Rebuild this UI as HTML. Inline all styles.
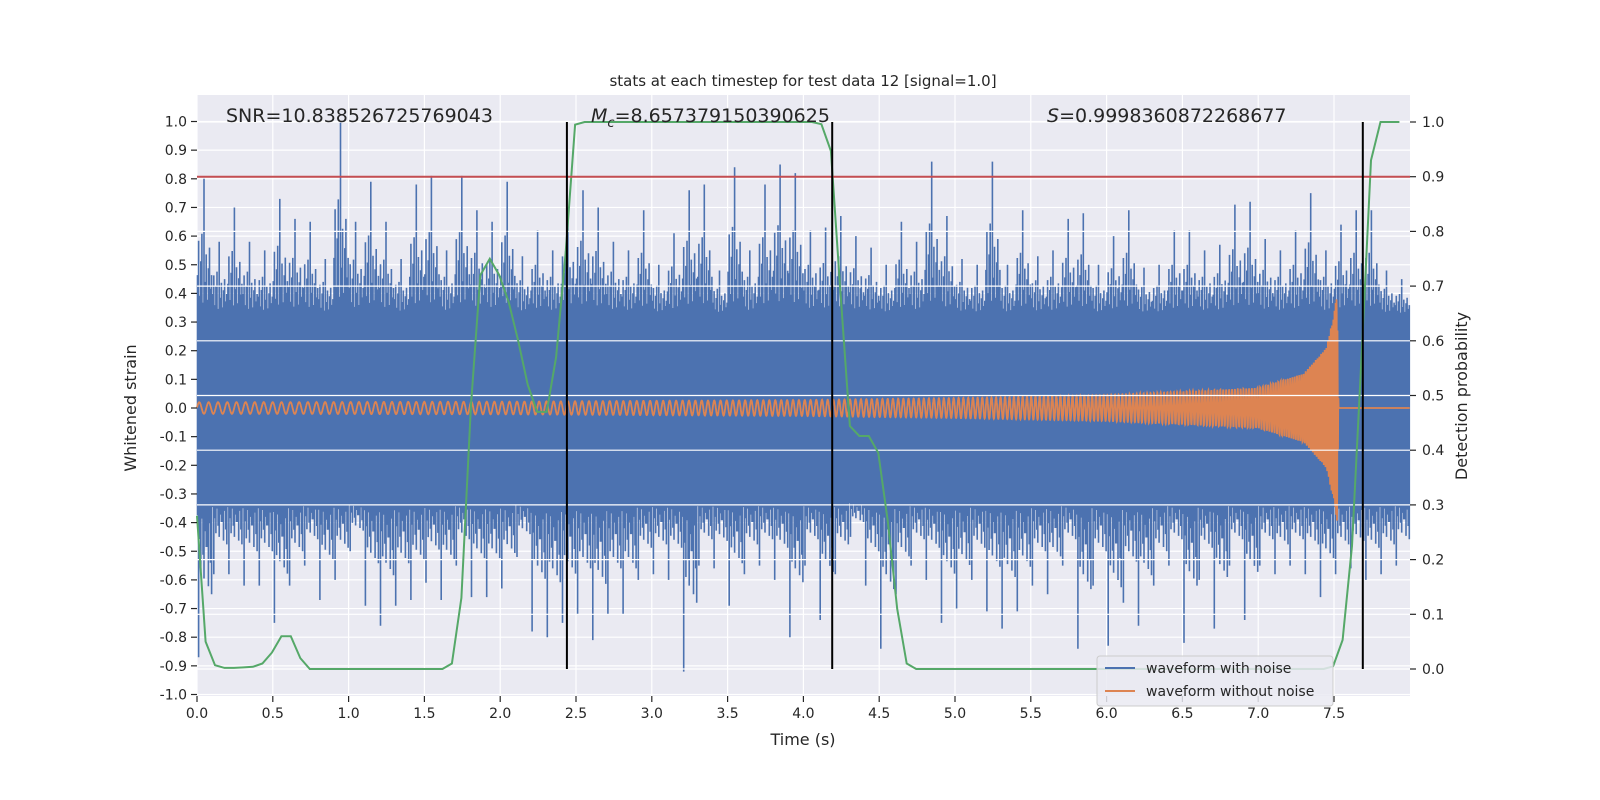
<!DOCTYPE html>
<html><head><meta charset="utf-8"><style>
html,body{margin:0;padding:0;background:#fff;}
svg{display:block;font-family:"DejaVu Sans","Liberation Sans",sans-serif;}
</style></head><body>
<svg id="chart" width="1600" height="800" viewBox="0 0 1600 800">
<rect x="0" y="0" width="1600" height="800" fill="#ffffff"/>
<rect x="197" y="95" width="1213" height="601" fill="#EAEAF2"/>
<g id="gridL"></g><g id="blue"></g><g id="orange"></g><g id="gridR"></g><g id="green"></g><g id="marks"></g><g id="axes"></g>
<text x="803" y="86" text-anchor="middle" font-size="15" fill="#262626">stats at each timestep for test data 12 [signal=1.0]</text>
<text x="226" y="122" font-size="19" fill="#262626">SNR=10.838526725769043</text>
<text x="591" y="122" font-size="19" fill="#262626"><tspan font-style="italic">M</tspan><tspan font-style="italic" font-size="13" dy="5">c</tspan><tspan dy="-5">=8.657379150390625</tspan></text>
<text x="1047" y="122" font-size="19" fill="#262626"><tspan font-style="italic">S</tspan>=0.9998360872268677</text>
<text x="803" y="745" text-anchor="middle" font-size="16" fill="#262626">Time (s)</text>
<text transform="translate(136,408) rotate(-90)" text-anchor="middle" font-size="16" fill="#262626">Whitened strain</text>
<text transform="translate(1467,396) rotate(-90)" text-anchor="middle" font-size="16" fill="#262626">Detection probability</text>
<g>
<rect x="1097" y="656" width="236" height="50" rx="3" fill="#EAEAF2" fill-opacity="0.85" stroke="#cccccc"/>
<line x1="1105" y1="668" x2="1135" y2="668" stroke="#4C72B0" stroke-width="2"/>
<text x="1146" y="673" font-size="14" fill="#262626">waveform with noise</text>
<line x1="1105" y1="691" x2="1135" y2="691" stroke="#DD8452" stroke-width="2"/>
<text x="1146" y="696" font-size="14" fill="#262626">waveform without noise</text>
</g>
</svg>
<script>
// ---- data ----
const noiseTop = [0.80,0.58,0.70,0.58,0.55,0.73,0.66,0.65,0.52,1.00,
0.65,0.79,0.65,0.52,0.78,0.81,0.55,0.81,0.69,0.65,
0.79,0.53,0.62,0.55,0.70,0.76,0.70,0.58,0.55,0.69,
0.50,0.61,0.76,0.78,0.48,0.84,0.55,0.78,0.85,0.82,
0.62,0.63,0.67,0.60,0.56,0.50,0.65,0.58,0.86,0.67,
0.52,0.50,0.86,0.50,0.69,0.53,0.55,0.66,0.68,0.50,
0.60,0.69,0.49,0.50,0.62,0.62,0.55,0.57,0.71,0.72,
0.59,0.55,0.62,0.75,0.55,0.64,0.69,0.69,0.48,0.45];
const noiseBottom = [-0.87,-0.58,-0.58,-0.62,-0.62,-0.75,-0.62,-0.55,-0.67,-0.60,
-0.50,-0.69,-0.76,-0.69,-0.67,-0.61,-0.67,-0.55,-0.66,-0.66,
-0.63,-0.52,-0.78,-0.80,-0.75,-0.72,-0.81,-0.72,-0.72,-0.60,
-0.58,-0.60,-0.92,-0.55,-0.56,-0.69,-0.58,-0.55,-0.60,-0.80,
-0.55,-0.74,-0.58,-0.45,-0.62,-0.84,-0.65,-0.55,-0.60,-0.75,
-0.70,-0.60,-0.71,-0.77,-0.71,-0.62,-0.65,-0.55,-0.84,-0.62,
-0.83,-0.68,-0.76,-0.62,-0.55,-0.82,-0.60,-0.77,-0.55,-0.74,
-0.55,-0.58,-0.55,-0.58,-0.66,-0.58,-0.56,-0.60,-0.58,-0.55];
const noiseBinWidth = 0.1;
const noiseCore = 0.32;
const spikePattern = [0.3,0.55,0.15,0.4,0.6,0.1,1.0,0.25,0.45,0.12,0.35,0.5,0.2,0.3];
const chirpTimes = [0, 2.0, 4.0, 5.0, 6.0, 7.0, 7.3, 7.45, 7.5, 7.52, 7.53, 8.0];
const chirpAmp   = [0.02, 0.022, 0.028, 0.035, 0.045, 0.07, 0.12, 0.21, 0.33, 0.40, 0.0, 0.0];
const chirpFreq  = [16, 20, 26, 31, 40, 55, 70, 90, 130, 160, 160, 160];
const probValues = [0.28,0.05,0.007,0.002,0.002,0.003,0.004,0.01,0.03,0.06,0.06,0.02,0,0,0,0,0,0,0,0,
0,0,0,0,0,0,0,0.01,0.13,0.48,0.72,0.75,0.72,0.67,0.60,0.52,0.47,0.47,0.57,0.76,
0.995,1,1,1,1,1,1,1,1,1,1,1,1,1,1,1,1,1,1,1,
1,1,1,1,1,1,0.996,0.947,0.69,0.444,0.426,0.426,0.395,0.27,0.11,0.01,0,0,0,0,
0,0,0,0,0,0,0,0,0,0,0,0,0,0,0,0,0,0,0,0,
0,0,0,0,0,0,0,0,0,0,0,0,0,0,0,0,0,0,0,0,
0.005,0.053,0.225,0.57,0.93,1,1,1];
const probStep = 0.0625, probStart = -0.006;
const threshold = 0.9;
const markerTimes = [2.44, 4.19, 7.69];
const xTicks = [0,0.5,1,1.5,2,2.5,3,3.5,4,4.5,5,5.5,6,6.5,7,7.5];
const yTicksL = [-1.0,-0.9,-0.8,-0.7,-0.6,-0.5,-0.4,-0.3,-0.2,-0.1,0.0,0.1,0.2,0.3,0.4,0.5,0.6,0.7,0.8,0.9,1.0];
const yTicksR = [0.0,0.1,0.2,0.3,0.4,0.5,0.6,0.7,0.8,0.9,1.0];

// ---- scales ----
const X0=197, X1=1410, YT=95, YB=696;
const xs = t => 197 + t*151.6;
const yL = v => 408 - v*286.5;
const yR = p => 669 - p*547;
const NS='http://www.w3.org/2000/svg';
function mk(tag, parent, attrs){const e=document.createElementNS(NS,tag);for(const k in attrs)e.setAttribute(k,attrs[k]);parent.appendChild(e);return e;}
const g = id => document.getElementById(id);
const fmt = v => v.toFixed(1);

yTicksL.forEach(v=>{const l=mk('line',g('gridL'),{x1:X0,x2:X1,y1:yL(v),y2:yL(v),stroke:'#fff','stroke-width':1.2});

});
xTicks.forEach(t=>{const l=mk('line',g('gridL'),{x1:xs(t),x2:xs(t),y1:YT,y2:YB,stroke:'#fff','stroke-width':1.2});

});

const blue=g('blue');


mk('rect',blue,{x:X0,y:yL(noiseCore),width:X1-X0,height:yL(-noiseCore)-yL(noiseCore),fill:'#4C72B0'});
let d='';
noiseTop.forEach((top,b)=>{
  const bot=noiseBottom[b];
  const n=spikePattern.length;
  for(let j=0;j<n;j++){
    const t=b*noiseBinWidth + (j+0.5)*noiseBinWidth/n;
    if(t>8) continue;
    const ft=spikePattern[j], fb=spikePattern[(j+5)%n];
    const vt=noiseCore+(top-noiseCore)*ft, vb=-noiseCore+(bot+noiseCore)*fb;
    const x=xs(t).toFixed(1);
    d+=`M${x} ${yL(vt).toFixed(1)}V${yL(vb).toFixed(1)}`;
  }
});
mk('path',blue,{d:d,stroke:'#4C72B0','stroke-width':1.6,fill:'none'});

function interp(arrT,arrV,t){for(let i=0;i<arrT.length-1;i++){if(t<=arrT[i+1]){const f=(t-arrT[i])/(arrT[i+1]-arrT[i]);return arrV[i]+f*(arrV[i+1]-arrV[i]);}}return arrV[arrV.length-1];}
let ph=0, pts=[]; const dt=0.0008;
for(let t=0;t<=8.0;t+=dt){
  const a=interp(chirpTimes,chirpAmp,t), f=interp(chirpTimes,chirpFreq,t);
  ph+=2*Math.PI*f*dt;
  pts.push(xs(t).toFixed(1)+','+yL(a*Math.sin(ph)).toFixed(1));
}
const orangeLine=mk('polyline',g('orange'),{points:pts.join(' '),fill:'none',stroke:'#DD8452','stroke-width':1.8});



yTicksR.forEach(p=>{const l=mk('line',g('gridR'),{x1:X0,x2:X1,y1:yR(p),y2:yR(p),stroke:'#fff','stroke-width':1.2});

});

const gp=probValues.map((p,i)=>{const t=Math.max(0,probStart+i*probStep);return xs(t).toFixed(1)+','+yR(p).toFixed(1);});
const greenLine=mk('polyline',g('green'),{points:gp.join(' '),fill:'none',stroke:'#55A868','stroke-width':2});



const th=mk('line',g('marks'),{x1:X0,x2:X1,y1:yR(threshold),y2:yR(threshold),stroke:'#C44E52','stroke-width':2});


markerTimes.forEach(t=>{const l=mk('line',g('marks'),{x1:xs(t),x2:xs(t),y1:yR(1),y2:yR(0),stroke:'#000','stroke-width':2});

});

const ax=g('axes');
xTicks.forEach(t=>{
  mk('line',ax,{x1:xs(t),x2:xs(t),y1:YB,y2:YB+6,stroke:'#262626','stroke-width':1.2});
  const tx=mk('text',ax,{x:xs(t),y:YB+22,'text-anchor':'middle','font-size':14,fill:'#262626'});tx.textContent=fmt(t);
  
  
});
yTicksL.forEach(v=>{
  mk('line',ax,{x1:X0-6,x2:X0,y1:yL(v),y2:yL(v),stroke:'#262626','stroke-width':1.2});
  const tx=mk('text',ax,{x:X0-10,y:yL(v)+5,'text-anchor':'end','font-size':14,fill:'#262626'});tx.textContent=fmt(v);
  
  
});
yTicksR.forEach(p=>{
  mk('line',ax,{x1:X1,x2:X1+6,y1:yR(p),y2:yR(p),stroke:'#262626','stroke-width':1.2});
  const tx=mk('text',ax,{x:X1+12,y:yR(p)+5,'text-anchor':'start','font-size':14,fill:'#262626'});tx.textContent=fmt(p);
  
  
});
</script>
</body></html>
